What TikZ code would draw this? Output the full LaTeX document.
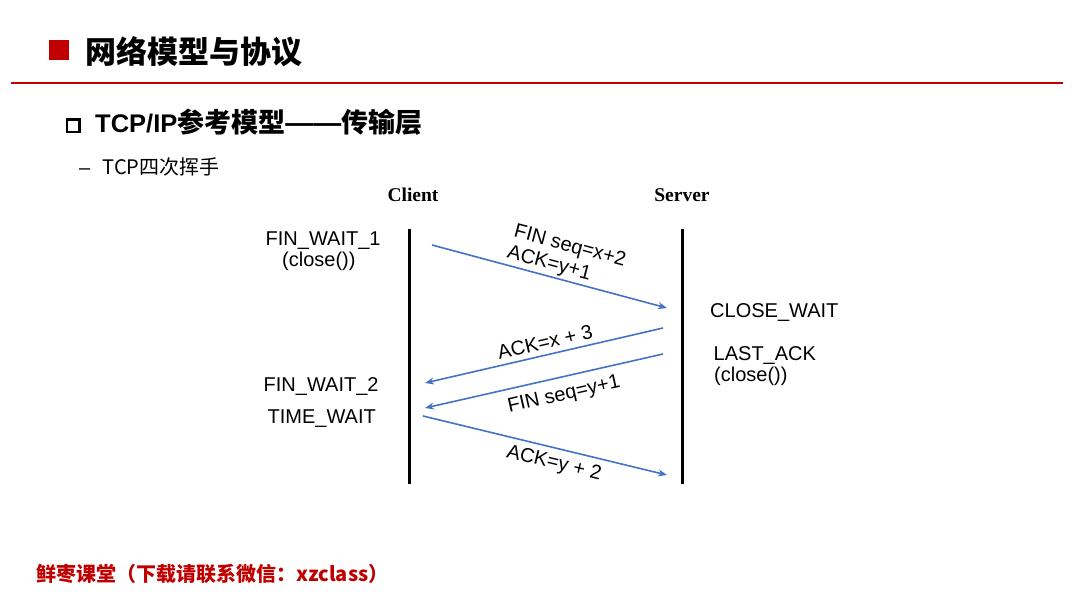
\documentclass[tikz,border=0pt]{standalone}
\usepackage{fontspec}
\setmainfont{Liberation Sans}
\newfontfamily\cjk{Noto Sans CJK SC}
\newfontfamily\tnr{Liberation Serif}
\usetikzlibrary{arrows.meta}
\definecolor{brand}{RGB}{192,0,0}
\definecolor{msgblue}{RGB}{68,114,196}
\begin{document}
\begin{tikzpicture}[x=1pt,y=-1pt,
  lbl/.style={inner sep=0pt, anchor=base west, font=\fontsize{20}{24}\selectfont},
  msglbl/.style={inner sep=0pt, anchor=base, font=\fontsize{20}{24}\selectfont},
  lifeline/.style={line width=3pt},
  msg/.style={draw=msgblue, line width=1.6pt, -{Stealth[length=9pt,width=7pt]}},
  hdr/.style={inner sep=0pt, anchor=base, font=\tnr\bfseries\fontsize{19.5}{23}\selectfont}]
\useasboundingbox[fill=white] (0,0) rectangle (1080,608);

% title bar
\fill[brand] (48.5,39.5) rectangle (68.5,59.5);
\node[inner sep=0pt, anchor=base west, font=\cjk\bfseries\fontsize{31}{36}\selectfont] (title) at (85,63) {网络模型与协议};
\coordinate (rl) at (11,83);
\coordinate (rr) at (1063,83);
\draw[brand, line width=2pt] (rl) -- (rr);

% subtitle
\draw[line width=2.5pt] (66.75,119.25) rectangle (79.25,131.75);
\node[inner sep=0pt, anchor=base west] (sub) at (95,132) {\bfseries\fontsize{25.5}{30}\selectfont TCP/IP{\cjk\fontsize{27}{30}\selectfont 参考模型}{\fontsize{28}{30}\selectfont——}{\cjk\fontsize{27}{30}\selectfont 传输层}};
\node[lbl] (dash) at (79,174) {–};
\node[inner sep=0pt, anchor=base west, font=\cjk\fontsize{20}{24}\selectfont] (sub2) at (102.5,174) {TCP四次挥手};

% headers
\node[hdr] (client) at (413,201) {Client};
\node[hdr] (server) at (682,201) {Server};

% lifelines
\coordinate (ctop) at (409,229);
\coordinate (cbot) at (409,484);
\coordinate (stop) at (682,229);
\coordinate (sbot) at (682,484);
\draw[lifeline] (ctop) -- (cbot);
\draw[lifeline] (stop) -- (sbot);

% message end points
\coordinate (a1s) at (432,245);
\coordinate (a1e) at (667,308);
\coordinate (a2s) at (663,328);
\coordinate (a2e) at (425,383);
\coordinate (a3s) at (663,354);
\coordinate (a3e) at (425,408);
\coordinate (a4s) at (423,416);
\coordinate (a4e) at (667,475);
\draw[msg] (a1s) -- (a1e);
\draw[msg] (a2s) -- (a2e);
\draw[msg] (a3s) -- (a3e);
\draw[msg] (a4s) -- (a4e);

% message labels
\node[msglbl, rotate=-15] (m1a) at (568.5,251.6) {FIN seq=x+2};
\node[msglbl, rotate=-15] (m1b) at (547.8,268.8) {ACK=y+1};
\node[msglbl, rotate=13] (m2) at (546.6,348.8) {ACK=x + 3};
\node[msglbl, rotate=12.8] (m3) at (565.1,399.9) {FIN seq=y+1};
\node[msglbl, rotate=-13.6] (m4) at (552.8,468.4) {ACK=y + 2};

% states
\node[lbl] (fw1) at (265.5,245) {FIN\_WAIT\_1};
\node[lbl] (cl1) at (282,266) {(close())};
\node[lbl] (fw2) at (263.5,391) {FIN\_WAIT\_2};
\node[lbl] (tw) at (267.5,423) {TIME\_WAIT};
\node[lbl] (cw) at (710,317) {CLOSE\_WAIT};
\node[lbl] (la) at (713.5,360) {LAST\_ACK};
\node[lbl] (cl2) at (714,381) {(close())};

% footer
\node[anchor=base west, inner sep=0pt, text=brand, font=\cjk\bfseries\fontsize{20}{24}\selectfont] (footer) at (36,581) {鲜枣课堂（下载请联系微信：xzclass）};
\end{tikzpicture}
\end{document}
